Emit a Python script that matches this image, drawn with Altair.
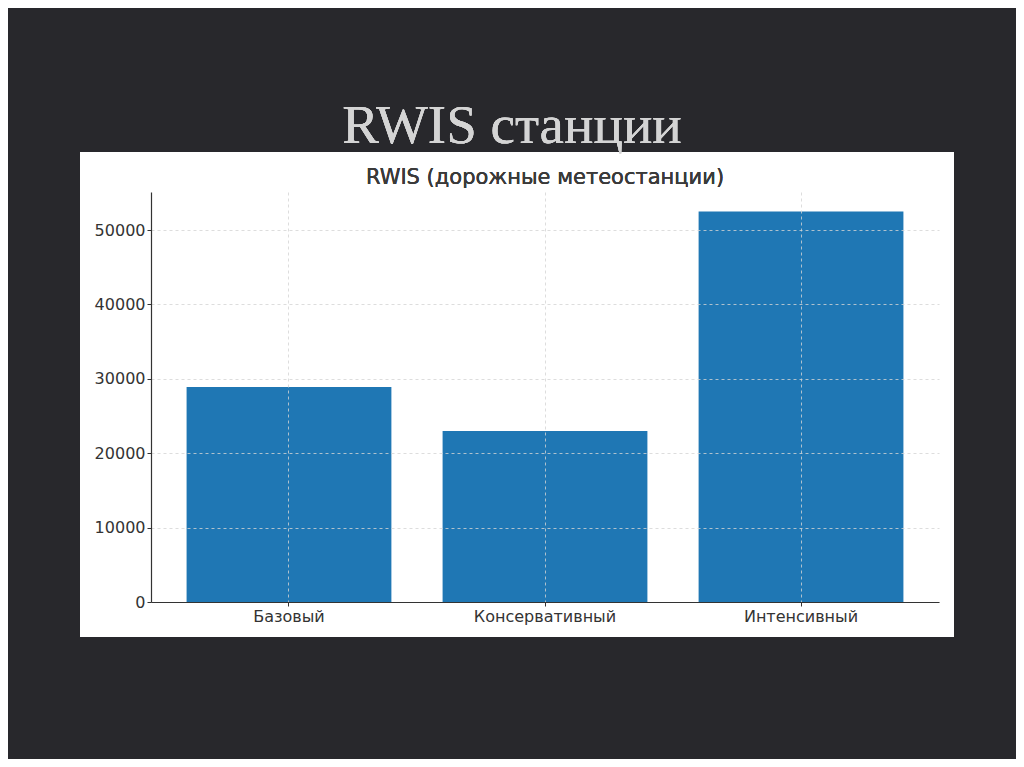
import altair as alt
import pandas as pd

categories = ["Базовый", "Консервативный", "Интенсивный"]
values = [28900, 23000, 52500]
y_ticks = [0, 10000, 20000, 30000, 40000, 50000]

slide_title = "RWIS станции"
chart_title = "RWIS (дорожные метеостанции)"

df = pd.DataFrame({"cat": categories, "val": values})

W, H = 788, 410

panel = alt.Chart(df).mark_rect(color="white", clip=False).encode(
    x=alt.value(-71), x2=alt.value(803), y=alt.value(-40), y2=alt.value(445)
)

title_big = alt.Chart(df).mark_text(
    text=slide_title, font="Liberation Serif", fontSize=55, color="#d4d4d4",
    align="center", baseline="alphabetic", clip=False
).encode(x=alt.value(361), y=alt.value(-49))

title_small = alt.Chart(df).mark_text(
    text=chart_title, font="DejaVu Sans", fontSize=21, color="#3a3a3a",
    align="center", baseline="alphabetic", clip=False
).encode(x=alt.value(394), y=alt.value(-8))

axis_common = dict(grid=True, gridColor="#d4d4d4", gridDash=[3, 3], gridWidth=0.8,
                   domainColor="#333333", domainWidth=1.2,
                   tickColor="#333333", tickSize=4,
                   labelFont="DejaVu Sans", labelFontSize=16,
                   labelColor="#333333", labelPadding=2, zindex=1)

bars = alt.Chart(df).mark_bar(color="#1f77b4").encode(
    x=alt.X("cat:N", sort=categories, title=None,
            scale=alt.Scale(paddingInner=0.2, paddingOuter=0.139),
            axis=alt.Axis(labelAngle=0, bandPosition=0.5, **axis_common)),
    y=alt.Y("val:Q", title=None,
            scale=alt.Scale(domain=[0, 55125], nice=False, zero=True),
            axis=alt.Axis(values=y_ticks, format="d", **axis_common)),
)

chart = alt.layer(panel, title_big, title_small, bars).properties(
    width=W, height=H,
    autosize=alt.AutoSizeParams(type="none"),
    padding={"left": 143, "top": 184, "right": 77, "bottom": 157},
    background="#28282c",
).configure_view(stroke=None)

chart.save("out.html", embed_options={"renderer": "svg", "actions": False})
